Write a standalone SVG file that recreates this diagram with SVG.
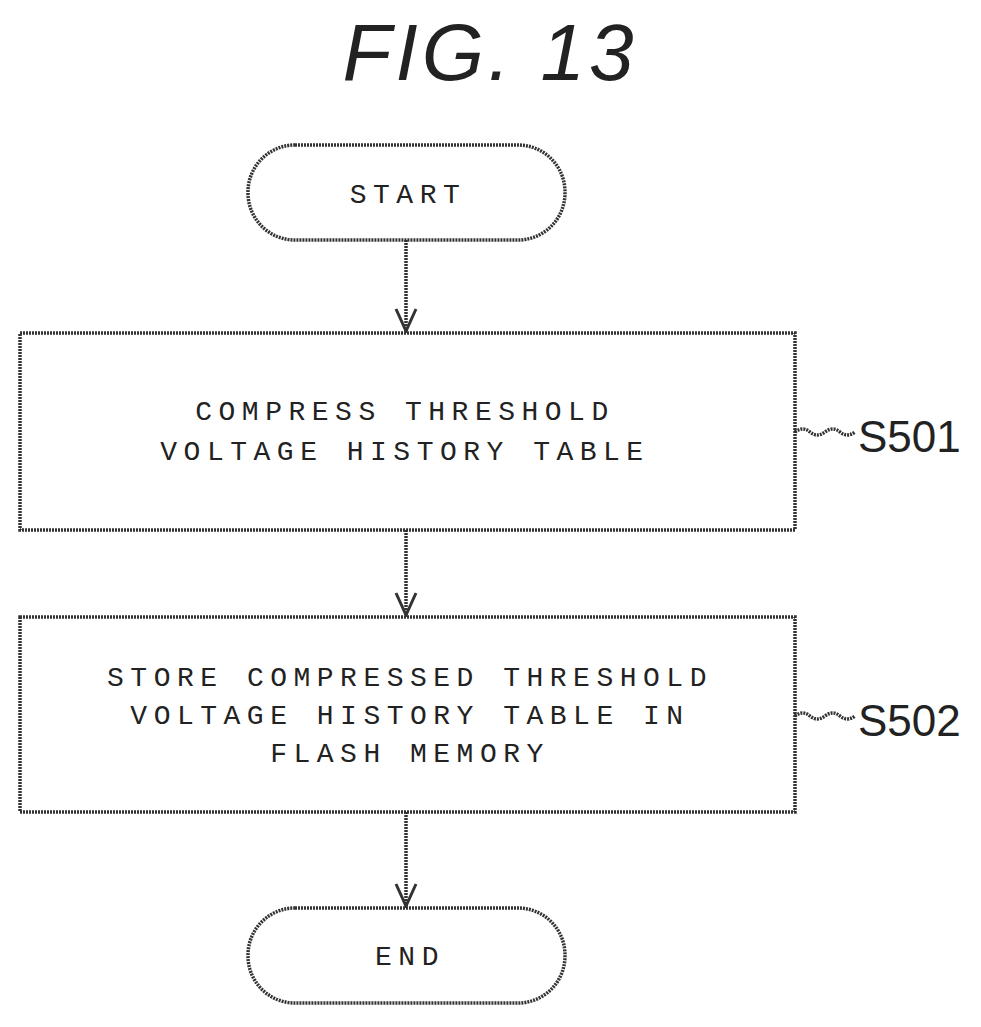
<svg xmlns="http://www.w3.org/2000/svg" width="981" height="1027" viewBox="0 0 981 1027">
<style>
.s{fill:none;stroke:#333;stroke-width:3.5;stroke-dasharray:2 1}
.t{font-family:"Liberation Mono",monospace;font-size:28px;letter-spacing:6.5px;fill:#222;text-anchor:middle}
.l{font-family:"Liberation Sans",Arial,sans-serif;font-size:44px;fill:#222}
</style>
<defs><marker id="a" markerWidth="26" markerHeight="24" refX="24" refY="12" orient="auto" markerUnits="userSpaceOnUse"><path d="M2,2 L24,12 L2,22" fill="none" stroke="#333" stroke-width="3"/></marker></defs>
<rect width="981" height="1027" fill="#fff"/>
<text x="490" y="80" font-family="Liberation Sans,Arial,sans-serif" font-style="italic" font-size="80" fill="#222" text-anchor="middle" letter-spacing="4">FIG. 13</text>
<g id="start"><rect class="s" x="248" y="145" width="317" height="95" rx="47"/><text class="t" x="408" y="203">START</text></g>
<g id="s501"><rect class="s" x="20" y="333" width="775" height="197"/><text class="t" x="405" y="420">COMPRESS THRESHOLD</text><text class="t" x="405" y="460">VOLTAGE HISTORY TABLE</text>
<path class="s" d="M795,432 q8,-6 15,0 t15,0 t15,0 t15,0" stroke-width="2.5"/><text class="l" x="858" y="452">S501</text></g>
<g id="s502"><rect class="s" x="20" y="617" width="775" height="195"/><text class="t" x="410" y="686">STORE COMPRESSED THRESHOLD</text><text class="t" x="410" y="724">VOLTAGE HISTORY TABLE IN</text><text class="t" x="410" y="762">FLASH MEMORY</text>
<path class="s" d="M795,716 q8,-6 15,0 t15,0 t15,0 t15,0" stroke-width="2.5"/><text class="l" x="858" y="736">S502</text></g>
<g id="end"><rect class="s" x="248" y="908" width="317" height="95" rx="47"/><text class="t" x="410" y="965">END</text></g>
<g id="connectors">
<path class="s" d="M406,240 V331" marker-end="url(#a)"/>
<path class="s" d="M406,530 V615" marker-end="url(#a)"/>
<path class="s" d="M406,812 V906" marker-end="url(#a)"/>
</g>
</svg>
